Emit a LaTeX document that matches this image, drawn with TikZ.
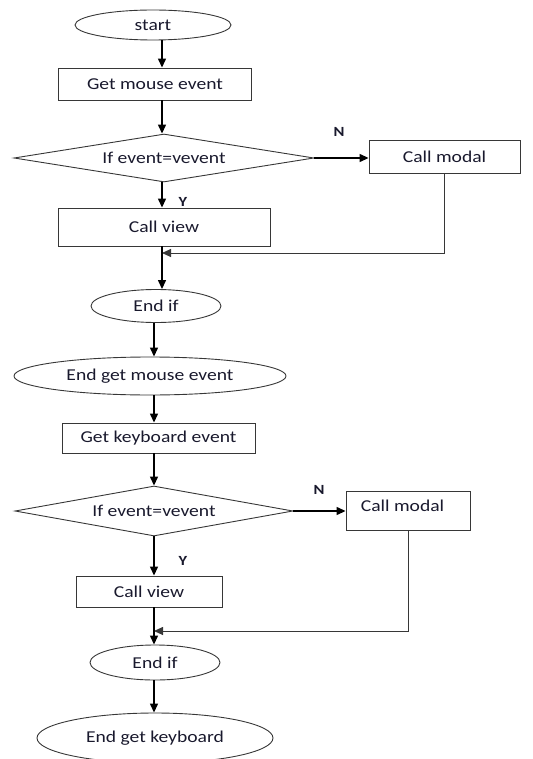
\documentclass[tikz,border=0pt]{standalone}
\usepackage{fontspec}
\setmainfont[FakeStretch=1.18]{Carlito}
\usetikzlibrary{shapes.geometric,arrows.meta}
\definecolor{txt}{RGB}{25,25,45}
\definecolor{edge}{RGB}{55,55,55}
\tikzset{
  shp/.style={draw=edge, line width=0.9pt, inner sep=0pt, text=txt,
    font=\fontsize{16.6}{18}\selectfont},
  box/.style={shp, rectangle},
  term/.style={shp, ellipse},
  dec/.style={shp, diamond},
  lbl/.style={text=txt, inner sep=0pt, font=\fontsize{14}{15}\selectfont\bfseries},
  arr/.style={draw=black, line width=1.3pt, -{Triangle[length=9pt,width=8pt]}},
  ret/.style={draw=edge, line width=0.9pt, -{Triangle[length=9pt,width=8pt]}},
}
\begin{document}
\begin{tikzpicture}[x=1pt,y=-1pt]
\useasboundingbox (0,0) rectangle (532,759);
% spines
\coordinate (sp1) at (162,0);
\coordinate (sp2) at (154,0);
% section 1
\node[term, minimum width=156pt, minimum height=30pt] (start) at (153,25) {start};
\node[box, minimum width=193pt, minimum height=32pt] (mouse) at (155,84) {Get mouse event};
\node[dec, aspect=6.25, minimum width=300pt, minimum height=48pt] (d1) at (164,158) {If event=vevent};
\node[box, minimum width=151pt, minimum height=33pt] (m1) at (444.5,156.5) {Call modal};
\node[box, minimum width=212pt, minimum height=38pt] (cv1) at (164,227) {Call view};
\node[lbl] (n1) at (339,132) {N};
\node[lbl] (y1) at (183,202) {Y};
\coordinate (j1) at (162,253);
\node[term, minimum width=130pt, minimum height=33pt] (e1) at (156,306) {End if};
% section 2
\node[term, minimum width=272pt, minimum height=38pt] (egm) at (150,376) {End get mouse event};
\node[box, minimum width=193pt, minimum height=30pt] (gk) at (158.5,438) {Get keyboard event};
\node[dec, aspect=5.56, minimum width=278pt, minimum height=50pt] (d2) at (154,511) {If event=vevent};
\node[box, minimum width=124pt, minimum height=39pt] (m2) at (408,510.5) {};
\node[shp, draw=none] (m2t) at (402.5,506) {Call modal};
\node[box, minimum width=146pt, minimum height=31pt] (cv2) at (149,591.5) {Call view};
\node[lbl] (n2) at (319,490) {N};
\node[lbl] (y2) at (183,561) {Y};
\coordinate (j2) at (154,631);
\node[term, minimum width=130pt, minimum height=35pt] (e2) at (155,662.5) {End if};
\node[term, minimum width=236pt, minimum height=50pt] (egk) at (155,738) {End get keyboard};
% connectors section 1
\draw[arr] (start.south -| sp1) -- (mouse.north -| sp1);
\draw[arr] (mouse.south -| sp1) -- (d1.north -| sp1);
\draw[arr] (d1.east) -- (d1.east -| m1.west);
\draw[arr] (d1.south -| sp1) -- (cv1.north -| sp1);
\draw[ret] (m1.south) |- (j1);
\draw[arr] (cv1.south -| sp1) -- (j1) -- (e1.north -| j1);
% connectors section 2
\draw[arr] (e1.south -| sp2) -- (egm.north -| sp2);
\draw[arr] (egm.south -| sp2) -- (gk.north -| sp2);
\draw[arr] (gk.south -| sp2) -- (d2.north -| sp2);
\draw[arr] (d2.east) -- (d2.east -| m2.west);
\draw[arr] (d2.south -| sp2) -- (cv2.north -| sp2);
\draw[ret] (m2.south) |- (j2);
\draw[arr] (cv2.south -| sp2) -- (j2) -- (e2.north -| j2);
\draw[arr] (e2.south -| sp2) -- (egk.north -| sp2);
\end{tikzpicture}
\end{document}
